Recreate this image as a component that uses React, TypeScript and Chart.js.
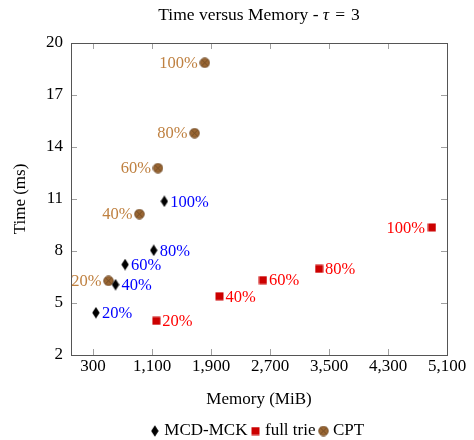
import React, { useEffect, useRef } from 'react';
import { Chart, registerables } from 'chart.js';

Chart.register(...registerables);

const seriesNames = ['MCD-MCK', 'full trie', 'CPT'];
const pointLabels = ['20%', '40%', '60%', '80%', '100%'];

const mcdMemory = [338, 604, 734, 1122, 1266];
const mcdTime = [4.44, 6.06, 7.22, 8.04, 10.87];
const trieMemory = [1158, 2014, 2604, 3365, 4896];
const trieTime = [3.97, 5.39, 6.32, 6.97, 9.36];
const cptMemory = [509, 928, 1180, 1676, 1815];
const cptTime = [6.28, 10.13, 12.78, 14.8, 18.86];

// which side of the mark each label sits on
const mcdSides = ['right', 'right', 'right', 'right', 'right'];
const trieSides = ['right', 'right', 'right', 'right', 'left'];
const cptSides = ['left', 'left', 'left', 'left', 'left'];

const xTicks = [300, 1100, 1900, 2700, 3500, 4300, 5100];
const yTicks = [2, 5, 8, 11, 14, 17, 20];

const FONT = "'Liberation Serif', 'DejaVu Serif', serif";
const FS = 17;
const TITLE_FS = 17.5;
const LABEL_FS = 16.5;

function makeDiamond(): HTMLCanvasElement {
  const c = document.createElement('canvas');
  c.width = 8;
  c.height = 12;
  const g = c.getContext('2d')!;
  g.fillStyle = '#000';
  g.beginPath();
  g.moveTo(4, 0.3);
  g.lineTo(7.7, 6);
  g.lineTo(4, 11.7);
  g.lineTo(0.3, 6);
  g.closePath();
  g.fill();
  return c;
}

function makeSquare(): HTMLCanvasElement {
  const c = document.createElement('canvas');
  c.width = 9;
  c.height = 9;
  const g = c.getContext('2d')!;
  g.fillStyle = '#cc0000';
  g.fillRect(0.5, 0.5, 8, 8);
  return c;
}

function makeOtimes(): HTMLCanvasElement {
  const c = document.createElement('canvas');
  c.width = 11;
  c.height = 11;
  const g = c.getContext('2d')!;
  g.fillStyle = '#996633';
  g.strokeStyle = '#6b4522';
  g.lineWidth = 0.8;
  g.beginPath();
  g.arc(5.5, 5.5, 4.8, 0, Math.PI * 2);
  g.fill();
  g.stroke();
  const d = 4.8 * Math.SQRT1_2;
  g.beginPath();
  g.moveTo(5.5 - d, 5.5 - d);
  g.lineTo(5.5 + d, 5.5 + d);
  g.moveTo(5.5 + d, 5.5 - d);
  g.lineTo(5.5 - d, 5.5 + d);
  g.stroke();
  return c;
}

const labelColors = ['#0000ff', '#ff0000', '#bf8040'];
const sidesBySeries = [mcdSides, trieSides, cptSides];

const decorPlugin = {
  id: 'decor',
  afterLayout(chart: any) {
    const lg = chart.legend;
    if (lg) {
      lg.top += 9.5;
      lg.bottom += 9.5;
    }
  },
  beforeDatasetsDraw(chart: any) {
    const { ctx, chartArea: a, scales } = chart;
    ctx.save();
    ctx.strokeStyle = '#a0a0a0';
    ctx.lineWidth = 1;
    const tl = 6;
    xTicks.forEach((v) => {
      const px = Math.round(scales.x.getPixelForValue(v)) + 0.5;
      ctx.beginPath();
      ctx.moveTo(px, a.bottom);
      ctx.lineTo(px, a.bottom - tl);
      ctx.moveTo(px, a.top);
      ctx.lineTo(px, a.top + tl);
      ctx.stroke();
    });
    yTicks.forEach((v) => {
      const py = Math.round(scales.y.getPixelForValue(v)) + 0.5;
      ctx.beginPath();
      ctx.moveTo(a.left, py);
      ctx.lineTo(a.left + tl, py);
      ctx.moveTo(a.right, py);
      ctx.lineTo(a.right - tl, py);
      ctx.stroke();
    });
    ctx.strokeStyle = '#555555';
    ctx.lineWidth = 1;
    ctx.strokeRect(Math.round(a.left) + 0.5, Math.round(a.top) + 0.5, Math.round(a.width), Math.round(a.height));
    ctx.restore();
  },
  afterDatasetsDraw(chart: any) {
    const { ctx } = chart;
    ctx.save();
    ctx.font = `${LABEL_FS}px ${FONT}`;
    ctx.textBaseline = 'middle';
    chart.data.datasets.forEach((ds: any, di: number) => {
      const meta = chart.getDatasetMeta(di);
      const sides = sidesBySeries[di];
      ctx.fillStyle = labelColors[di];
      meta.data.forEach((el: any, i: number) => {
        const side = sides[i];
        if (side === 'left') {
          ctx.textAlign = 'right';
          ctx.fillText(pointLabels[i], el.x - 7, el.y + 1);
        } else {
          ctx.textAlign = 'left';
          ctx.fillText(pointLabels[i], el.x + 6, el.y + 1);
        }
      });
    });
    ctx.restore();
  },
  afterDraw(chart: any) {
    const { ctx, chartArea: a } = chart;
    ctx.save();
    const regular = `${TITLE_FS}px ${FONT}`;
    const italic = `italic ${TITLE_FS}px ${FONT}`;
    const parts: [string, string, number][] = [
      ['Time versus Memory - ', regular, 0],
      ['τ', italic, 6],
      ['=', regular, 6],
      ['3', regular, 0],
    ];
    let total = 0;
    parts.forEach(([t, f, gap]) => {
      ctx.font = f;
      total += ctx.measureText(t).width + gap;
    });
    let x = (a.left + a.right) / 2 - total / 2;
    const y = 15;
    ctx.fillStyle = '#000';
    ctx.textBaseline = 'middle';
    ctx.textAlign = 'left';
    parts.forEach(([t, f, gap]) => {
      ctx.font = f;
      ctx.fillText(t, x, y);
      x += ctx.measureText(t).width + gap;
    });
    ctx.restore();
  },
};

export default function App() {
  const ref = useRef<HTMLCanvasElement | null>(null);

  useEffect(() => {
    if (!ref.current) return;
    const diamond = makeDiamond();
    const square = makeSquare();
    const otimes = makeOtimes();
    const toPts = (xs: number[], ys: number[]) => xs.map((x, i) => ({ x, y: ys[i] }));

    const chart = new Chart(ref.current, {
      type: 'scatter',
      data: {
        datasets: [
          {
            label: seriesNames[0],
            data: toPts(mcdMemory, mcdTime),
            pointStyle: diamond,
            backgroundColor: '#000',
            borderColor: '#000',
          },
          {
            label: seriesNames[1],
            data: toPts(trieMemory, trieTime),
            pointStyle: square,
            backgroundColor: '#cc0000',
            borderColor: '#cc0000',
          },
          {
            label: seriesNames[2],
            data: toPts(cptMemory, cptTime),
            pointStyle: otimes,
            backgroundColor: '#996633',
            borderColor: '#996633',
          },
        ] as any,
      },
      options: {
        animation: false,
        responsive: false,
        layout: { padding: { top: 43, right: 27, left: 0, bottom: 0 } },
        plugins: {
          title: { display: false },
          tooltip: { enabled: false },
          legend: {
            position: 'bottom',
            fullSize: false,
            labels: {
              usePointStyle: true,
              pointStyleWidth: 2,
              padding: 7,
              color: '#000',
              font: { family: FONT, size: FS, lineHeight: 1 },
            },
          },
        },
        scales: {
          x: {
            type: 'linear',
            min: 0,
            max: 5100,
            afterFit: (s: any) => {
              s.height = 51;
            },
            afterBuildTicks: (s: any) => {
              s.ticks = xTicks.map((v) => ({ value: v }));
            },
            grid: { display: true, drawOnChartArea: false, drawTicks: false },
            border: { display: false },
            ticks: {
              autoSkip: false,
              maxRotation: 0,
              padding: 1,
              color: '#000',
              font: { family: FONT, size: FS },
              callback: (v: any) => Number(v).toLocaleString('en-US'),
            },
            title: {
              display: true,
              text: 'Memory (MiB)',
              color: '#000',
              font: { family: FONT, size: FS },
              padding: { top: 4, bottom: -4 },
            },
          },
          y: {
            type: 'linear',
            min: 2,
            max: 20,
            afterFit: (s: any) => {
              s.width = 71;
            },
            afterBuildTicks: (s: any) => {
              s.ticks = yTicks.map((v) => ({ value: v }));
            },
            grid: { display: true, drawOnChartArea: false, drawTicks: false },
            border: { display: false },
            ticks: {
              autoSkip: false,
              padding: 8,
              color: '#000',
              font: { family: FONT, size: FS },
            },
            title: {
              display: true,
              text: 'Time (ms)',
              color: '#000',
              font: { family: FONT, size: FS },
              padding: { top: 10, bottom: 4 },
            },
          },
        },
      },
      plugins: [decorPlugin],
    });
    return () => chart.destroy();
  }, []);

  return (
    <div style={{ position: 'fixed', left: 0, top: 0, width: 474, height: 440, background: '#fff' }}>
      <canvas ref={ref} width={474} height={440} style={{ width: 474, height: 440 }} />
    </div>
  );
}
